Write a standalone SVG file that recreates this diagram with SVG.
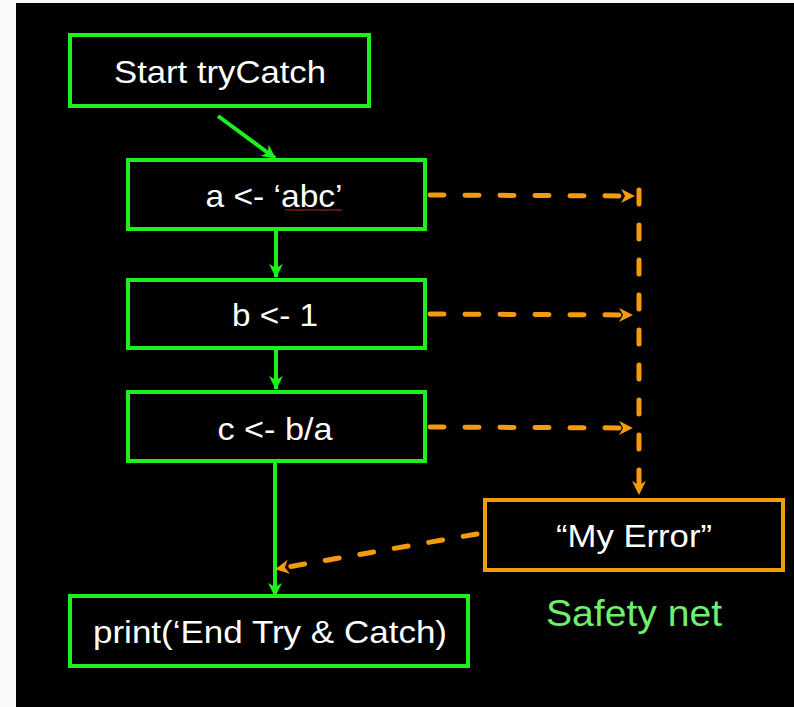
<svg xmlns="http://www.w3.org/2000/svg" width="794" height="707" viewBox="0 0 794 707">
  <style>
    .gbox { fill: #000; stroke: #1ef01e; stroke-width: 4; }
    .obox { fill: #000; stroke: #f39a0e; stroke-width: 4; }
    .lbl { font-family: "Liberation Sans", Arial, sans-serif; font-size: 32px; fill: #fff; text-anchor: middle; }
    .gline { stroke: #1ef01e; stroke-width: 4; fill: none; }
    .oline { stroke: #f39a0e; stroke-width: 5; fill: none; stroke-dasharray: 14 21; stroke-linecap: round; }
  </style>
  <defs>
    <marker id="ga" markerUnits="userSpaceOnUse" viewBox="0 0 14 14" refX="13" refY="7" markerWidth="14" markerHeight="14" orient="auto">
      <path d="M0,0 L14,7 L0,14 L4,7 Z" fill="#1ef01e"/>
    </marker>
    <marker id="oa" markerUnits="userSpaceOnUse" viewBox="0 0 14 14" refX="13" refY="7" markerWidth="14" markerHeight="14" orient="auto">
      <path d="M0,0 L14,7 L0,14 L4,7 Z" fill="#f39a0e"/>
    </marker>
  </defs>
  <rect x="0" y="0" width="794" height="707" fill="#fafafa"/>
  <rect x="16" y="3" width="778" height="704" fill="#000"/>

  <g id="connectors">
    <line class="gline" x1="218" y1="116" x2="275" y2="158" marker-end="url(#ga)"/>
    <line class="gline" x1="276" y1="231" x2="276" y2="277" marker-end="url(#ga)"/>
    <line class="gline" x1="276" y1="350" x2="276" y2="389" marker-end="url(#ga)"/>
    <line class="gline" x1="275" y1="463" x2="275" y2="596" marker-end="url(#ga)"/>
    <line class="oline" x1="430" y1="195" x2="634" y2="196" marker-end="url(#oa)"/>
    <line class="oline" x1="430" y1="314" x2="632" y2="315" marker-end="url(#oa)"/>
    <line class="oline" x1="430" y1="427" x2="632" y2="428" marker-end="url(#oa)"/>
    <line class="oline" x1="639" y1="190" x2="639" y2="494" marker-end="url(#oa)"/>
    <line class="oline" x1="477" y1="534" x2="276" y2="569" marker-end="url(#oa)"/>
  </g>

  <g id="start">
    <rect class="gbox" x="70" y="35" width="299" height="71"/>
    <text class="lbl" x="220" y="83" textLength="212" lengthAdjust="spacingAndGlyphs">Start tryCatch</text>
  </g>
  <g id="a">
    <rect class="gbox" x="128" y="160" width="297" height="69"/>
    <text class="lbl" x="274" y="207" textLength="137" lengthAdjust="spacingAndGlyphs">a &lt;- ‘abc’</text>
    <path d="M285,210.5 l1.5,-1 l1.5,1 l1.5,-1 l1.5,1 l1.5,-1 l1.5,1 l1.5,-1 l1.5,1 l1.5,-1 l1.5,1 l1.5,-1 l1.5,1 l1.5,-1 l1.5,1 l1.5,-1 l1.5,1 l1.5,-1 l1.5,1 l1.5,-1 l1.5,1 l1.5,-1 l1.5,1 l1.5,-1 l1.5,1 l1.5,-1 l1.5,1 l1.5,-1 l1.5,1 l1.5,-1 l1.5,1 l1.5,-1 l1.5,1 l1.5,-1 l1.5,1 l1.5,-1 l1.5,1 l1.5,-1 l1.5,1" fill="none" stroke="#c03030" stroke-width="1"/>
  </g>
  <g id="b">
    <rect class="gbox" x="128" y="280" width="297" height="68"/>
    <text class="lbl" x="275" y="326" textLength="86" lengthAdjust="spacingAndGlyphs">b &lt;- 1</text>
  </g>
  <g id="c">
    <rect class="gbox" x="128" y="392" width="297" height="69"/>
    <text class="lbl" x="275" y="440" textLength="115" lengthAdjust="spacingAndGlyphs">c &lt;- b/a</text>
  </g>
  <g id="print">
    <rect class="gbox" x="70" y="596" width="398" height="70"/>
    <text class="lbl" x="270" y="643" textLength="354" lengthAdjust="spacingAndGlyphs">print(‘End Try &amp; Catch)</text>
  </g>
  <g id="myerror">
    <rect class="obox" x="485" y="500" width="298" height="70"/>
    <text class="lbl" x="634" y="547" textLength="156" lengthAdjust="spacingAndGlyphs">“My Error”</text>
  </g>
  <g id="safety">
    <text x="634" y="626" font-family="Liberation Sans, Arial, sans-serif" font-size="36" fill="#6ef06e" text-anchor="middle" textLength="176" lengthAdjust="spacingAndGlyphs">Safety net</text>
  </g>
</svg>
